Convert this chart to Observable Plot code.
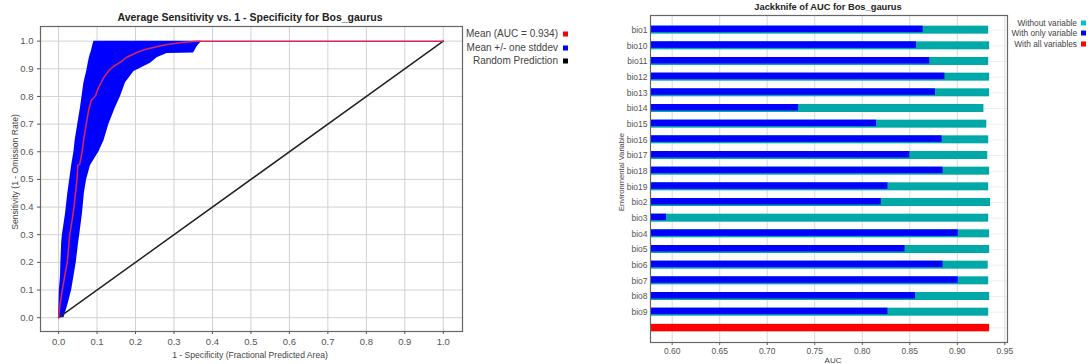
<!DOCTYPE html>
<html>
<head>
<meta charset="utf-8">
<script src="https://cdn.jsdelivr.net/npm/d3@7"></script>
<script src="https://cdn.jsdelivr.net/npm/@observablehq/plot@0.6"></script>
<style>
  html, body { margin: 0; padding: 0; background: #fff; }
  #wrap { position: relative; width: 1090px; height: 364px; overflow: hidden; font-family: "Liberation Sans", Arial, sans-serif; }
  .abs { position: absolute; line-height: 1; white-space: nowrap; }
  .c { transform: translate(-50%, -50%); }
  .r { transform: translate(-100%, -50%); }
  .rot { transform: translate(-50%, -50%) rotate(-90deg); }
  .sq { position: absolute; width: 5px; height: 5px; transform: translateY(-50%); }
  #left, #right { position: absolute; top: 0; }
  #left { left: 0; }
  #right { left: 600px; }
</style>
</head>
<body>
<div id="wrap">
  <div id="left"></div>
  <div id="right"></div>
</div>
<script>
// ---------- ROC data (left panel) ----------
const rocTicks = [0, 0.1, 0.2, 0.3, 0.4, 0.5, 0.6, 0.7, 0.8, 0.9, 1.0];
const meanX = [0, 0.004, 0.0096, 0.016, 0.0225, 0.026, 0.029, 0.035, 0.040, 0.044, 0.048, 0.050, 0.055, 0.0615, 0.066, 0.072, 0.078, 0.085, 0.096, 0.103, 0.109, 0.118, 0.131, 0.140, 0.150, 0.161, 0.175, 0.187, 0.205, 0.230, 0.255, 0.282, 0.320, 0.360, 1.0];
const meanY = [0, 0.05, 0.1, 0.15, 0.2, 0.25, 0.3, 0.35, 0.4, 0.45, 0.5, 0.55, 0.555, 0.604, 0.65, 0.70, 0.75, 0.785, 0.803, 0.83, 0.846, 0.87, 0.894, 0.905, 0.915, 0.924, 0.94, 0.948, 0.96, 0.972, 0.98, 0.988, 0.995, 1.0, 1.0];
const bandY  = [0, 0.05, 0.1, 0.15, 0.2, 0.27, 0.3, 0.375, 0.45, 0.5, 0.55, 0.6, 0.64, 0.7, 0.76, 0.8, 0.85, 0.89, 0.92, 0.94, 0.955, 0.957, 0.98, 1.0];
const bandLo = [0, 0.001, 0.002, 0.005, 0.006, 0.008, 0.01, 0.018, 0.024, 0.029, 0.034, 0.040, 0.043, 0.050, 0.057, 0.061, 0.066, 0.073, 0.077, 0.080, 0.083, 0.084, 0.088, 0.092];
const bandHi = [0.014, 0.025, 0.034, 0.040, 0.046, 0.052, 0.055, 0.062, 0.067, 0.073, 0.083, 0.105, 0.118, 0.131, 0.148, 0.161, 0.174, 0.196, 0.239, 0.256, 0.282, 0.351, 0.360, 0.372];
const randX = [0, 1];
const randY = [0, 1];

// ---------- Jackknife data (right panel) ----------
const variables = ["bio1","bio10","bio11","bio12","bio13","bio14","bio15","bio16","bio17","bio18","bio19","bio2","bio3","bio4","bio5","bio6","bio7","bio8","bio9"];
const withoutVar = [0.933, 0.934, 0.933, 0.934, 0.934, 0.928, 0.931, 0.933, 0.932, 0.934, 0.933, 0.935, 0.933, 0.934, 0.934, 0.9325, 0.933, 0.934, 0.933];
const onlyVar    = [0.864, 0.857, 0.871, 0.887, 0.877, 0.733, 0.815, 0.884, 0.850, 0.885, 0.827, 0.820, 0.594, 0.901, 0.845, 0.885, 0.901, 0.856, 0.827];
const allLabel = "all";
const allAUC = 0.934;
const aucTicks = [0.60, 0.65, 0.70, 0.75, 0.80, 0.85, 0.90, 0.95];

// ---------- Left plot ----------
const mean = meanX.map((x, i) => ({x, y: meanY[i]}));
const band = bandY.map((y, i) => ({y, lo: bandLo[i], hi: bandHi[i]}));
const rand = randX.map((x, i) => ({x, y: randY[i]}));

const left = Plot.plot({
  width: 470, height: 364,
  marginLeft: 40, marginRight: 8, marginTop: 26, marginBottom: 33,
  style: {fontFamily: "Liberation Sans, Arial, sans-serif", fontSize: "9.5px", color: "#555", background: "transparent"},
  x: {domain: [-0.047, 1.05], ticks: rocTicks, tickFormat: d => d.toFixed(1), tickSize: 3, tickPadding: 4, label: null},
  y: {domain: [-0.05, 1.053], ticks: rocTicks, tickFormat: d => d.toFixed(1), tickSize: 3, tickPadding: 4, label: null},
  marks: [
    Plot.ruleX(rocTicks, {stroke: "#d2d2d2", strokeWidth: 1}),
    Plot.ruleY(rocTicks, {stroke: "#d2d2d2", strokeWidth: 1}),
    Plot.areaX(band, {y: "y", x1: "lo", x2: "hi", fill: "#0000ff"}),
    Plot.line(rand, {x: "x", y: "y", stroke: "#222", strokeWidth: 1.5}),
    Plot.line(mean, {x: "x", y: "y", stroke: "#e0245a", strokeWidth: 1.5}),
    Plot.frame({stroke: "#666", strokeWidth: 1.2})
  ]
});
document.getElementById("left").appendChild(left);

// ---------- Right plot ----------
const rows = variables.map((v, i) => ({v, without: withoutVar[i], only: onlyVar[i]}));
const xDom = [0.5772, 0.9528];
const right = Plot.plot({
  width: 420, height: 364,
  marginLeft: 50, marginRight: 13, marginTop: 15, marginBottom: 22,
  style: {fontFamily: "Liberation Sans, Arial, sans-serif", fontSize: "8.5px", color: "#555", background: "transparent"},
  x: {domain: xDom, ticks: aucTicks, tickFormat: d => d.toFixed(2), tickSize: 3, tickPadding: 2, label: null},
  y: {domain: [...variables, allLabel], round: false, paddingInner: 0.49, paddingOuter: 0.68, tickSize: 0, tickPadding: 3, tickFormat: d => d === allLabel ? "" : d, label: null, grid: true},
  marks: [
    Plot.ruleX(aucTicks, {stroke: "#d8d8d8"}),
    Plot.barX(rows, {y: "v", x1: xDom[0], x2: "without", fill: "#00a8a8"}),
    Plot.barX(rows, {y: "v", x1: xDom[0], x2: "only", fill: "#0000ff", insetBottom: 1.5}),
    Plot.barX([{v: allLabel, auc: allAUC}], {y: "v", x1: xDom[0], x2: "auc", fill: "#ff0000", insetTop: 0.5}),
    Plot.frame({stroke: "#666", strokeWidth: 1.2})
  ]
});
document.getElementById("right").appendChild(right);

// ---------- HTML text: titles, axis labels, legends ----------
const wrap = document.getElementById("wrap");
function txt(s, x, y, cls, css) {
  const d = document.createElement("div");
  d.className = "abs " + cls;
  d.textContent = s;
  d.style.left = x + "px"; d.style.top = y + "px";
  Object.assign(d.style, css || {});
  wrap.appendChild(d);
}
function sq(x, y, color) {
  const d = document.createElement("div");
  d.className = "sq";
  d.style.left = x + "px"; d.style.top = y + "px"; d.style.background = color;
  wrap.appendChild(d);
}
txt("Average Sensitivity vs. 1 - Specificity for Bos_gaurus", 250, 17, "c", {fontWeight: "bold", fontSize: "10.5px", color: "#222"});
txt("1 - Specificity (Fractional Predicted Area)", 250, 355, "c", {fontSize: "8.6px", color: "#444"});
txt("Sensitivity (1 - Omission Rate)", 15, 172, "rot", {fontSize: "8.6px", color: "#444"});

const legL = [["Mean (AUC = 0.934)", "#ff0000"], ["Mean +/- one stddev", "#0000ff"], ["Random Prediction", "#000000"]];
[34, 48, 61].forEach((y, i) => {
  txt(legL[i][0], 558, y, "r", {fontSize: "10px", color: "#444"});
  sq(563, y, legL[i][1]);
});

txt("Jackknife of AUC for Bos_gaurus", 828, 8, "c", {fontWeight: "bold", fontSize: "9.3px", color: "#222"});
txt("Environmental Variable", 622, 172, "rot", {fontSize: "7.6px", color: "#444"});
txt("AUC", 833, 361, "c", {fontSize: "8px", color: "#444"});
const legR = [["Without variable", "#00c4c4"], ["With only variable", "#0000ff"], ["With all variables", "#ff0000"]];
[22.7, 33.3, 43.7].forEach((y, i) => {
  txt(legR[i][0], 1077, y, "r", {fontSize: "8.3px", color: "#444"});
  sq(1081, y, legR[i][1]);
});
</script>
</body>
</html>
